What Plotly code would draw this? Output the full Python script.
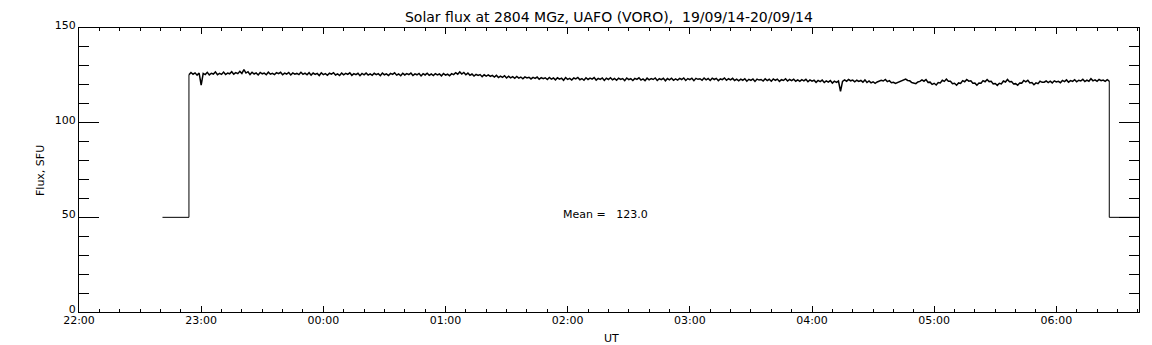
import pandas as pd
import plotly.graph_objects as go

# ---- data, one value per minute ----
data_start = "2014-09-19 22:54"   # first sample of the flux record
step_minutes = 1
flux = [
    # 22:54 - 23:23
    125.3, 126.5, 125.6, 126.3, 125.1, 126.2, 119.8, 126.0, 125.4, 126.6, 125.2, 126.1, 125.7, 126.8, 125.3,
    126.0, 125.5, 126.7, 125.4, 126.2, 125.8, 126.9, 125.6, 126.4, 125.9, 127.1, 126.0, 128.0, 126.2, 126.9,
    # 23:24 - 23:53
    125.4, 126.6, 125.7, 126.3, 125.2, 126.5, 125.8, 126.2, 125.3, 126.7, 125.6, 126.1, 125.4, 126.4, 125.9,
    126.6, 125.3, 126.2, 125.7, 126.5, 125.2, 126.3, 125.6, 126.0, 125.4, 126.6, 125.5, 126.2, 125.3, 126.4,
    # 23:54 - 00:23
    125.1, 126.2, 125.5, 126.0, 124.9, 126.3, 125.4, 125.9, 125.0, 126.1, 125.6, 126.4, 125.2, 125.8, 124.9,
    126.2, 125.3, 126.0, 125.5, 126.3, 125.0, 125.9, 125.4, 126.1, 124.8, 126.0, 125.3, 126.2, 125.1, 125.8,
    # 00:24 - 00:53
    125.0, 126.1, 125.4, 125.9, 124.8, 126.2, 125.3, 125.8, 124.9, 126.0, 125.5, 126.3, 125.1, 125.7, 124.8,
    126.1, 125.2, 125.9, 125.4, 126.2, 124.9, 125.8, 125.3, 126.0, 124.7, 125.9, 125.2, 126.1, 125.0, 125.7,
    # 00:54 - 01:23
    124.9, 125.9, 125.2, 125.7, 124.7, 126.0, 125.1, 125.6, 124.8, 125.9, 125.4, 126.4, 125.6, 126.8, 125.7,
    126.5, 125.3, 126.2, 125.0, 125.7, 124.6, 125.5, 124.9, 125.4, 124.3, 125.3, 124.6, 125.2, 124.4, 125.0,
    # 01:24 - 01:53
    124.1, 125.0, 123.8, 124.6, 123.9, 124.8, 123.6, 124.5, 123.7, 124.3, 123.4, 124.4, 123.5, 124.1, 123.2,
    124.2, 123.6, 124.0, 123.1, 123.9, 123.4, 124.1, 122.9, 123.8, 123.2, 123.7, 122.8, 123.9, 123.0, 123.6,
    # 01:54 - 02:23
    122.6, 123.7, 123.0, 123.5, 122.4, 123.8, 122.9, 123.4, 122.5, 123.6, 123.1, 123.9, 122.7, 123.3, 122.4,
    123.7, 122.8, 123.5, 123.0, 123.8, 122.5, 123.4, 122.9, 123.6, 122.3, 123.5, 122.8, 123.7, 122.6, 123.3,
    # 02:24 - 02:53
    122.4, 123.5, 122.8, 123.3, 122.2, 123.6, 122.7, 123.2, 122.3, 123.4, 122.9, 123.7, 122.5, 123.1, 122.2,
    123.5, 122.6, 123.3, 122.8, 123.6, 122.3, 123.2, 122.7, 123.4, 122.1, 123.3, 122.6, 123.5, 122.4, 123.1,
    # 02:54 - 03:23
    122.5, 123.4, 122.8, 123.6, 122.3, 123.3, 122.7, 123.5, 122.2, 123.4, 122.9, 123.2, 122.4, 123.6, 122.6,
    123.3, 122.3, 123.5, 122.8, 123.4, 122.2, 123.1, 122.7, 123.6, 122.4, 123.2, 122.6, 123.4, 122.3, 123.0,
    # 03:24 - 03:53
    122.1, 123.0, 122.4, 123.2, 121.9, 122.9, 122.3, 123.1, 121.8, 123.0, 122.5, 122.8, 122.0, 123.2, 122.2,
    122.9, 121.9, 123.1, 122.4, 123.0, 121.8, 122.7, 122.3, 123.2, 122.0, 122.8, 122.2, 123.0, 121.9, 122.6,
    # 03:54 - 04:23
    121.8, 122.7, 122.1, 122.9, 121.6, 122.6, 121.9, 122.4, 121.3, 122.3, 121.7, 122.5, 121.2, 122.1, 121.4,
    122.2, 120.9, 121.9, 121.3, 122.0, 116.5, 121.8, 122.6, 121.9, 122.8, 122.1, 122.5, 121.6, 122.4, 121.8,
    # 04:24 - 04:53
    122.3, 121.4, 122.6, 121.2, 122.0, 121.0, 121.6, 120.8, 121.5, 121.9, 122.4, 122.0, 122.8, 121.7, 122.2,
    121.1, 121.3, 120.7, 121.2, 121.4, 122.1, 122.5, 123.0, 122.3, 122.1, 121.2, 120.9, 120.6, 121.5, 121.8,
    # 04:54 - 05:23
    122.6, 121.9, 122.8, 121.3, 121.4, 120.2, 120.8, 119.9, 121.2, 121.0, 122.4, 121.8, 123.0, 121.9, 121.9,
    120.6, 120.8, 119.8, 121.0, 120.7, 122.2, 121.6, 122.8, 121.9, 122.1, 120.8, 120.9, 119.8, 120.9, 120.8,
    # 05:24 - 05:53
    122.2, 121.6, 122.8, 121.7, 121.9, 120.5, 120.7, 119.7, 120.8, 120.5, 122.0, 121.5, 122.8, 121.6, 121.7,
    120.4, 120.6, 119.8, 121.0, 120.9, 122.3, 121.6, 122.4, 121.0, 121.2, 120.0, 121.0, 120.6, 121.9, 121.3,
    # 05:54 - 06:23
    121.4, 122.0, 121.2, 121.9, 121.0, 122.1, 121.5, 121.8, 121.1, 122.3, 121.7, 122.6, 121.4, 122.2, 121.8,
    122.7, 121.6, 122.4, 122.0, 122.9, 121.7, 122.5, 121.9, 123.2, 122.1, 122.6, 121.8, 122.8, 122.2, 122.5,
    # 06:24 - 06:26
    121.8, 122.7, 122.0,
]
fill_value = 50.0
fill_before_start = "2014-09-19 22:41"
fill_after_end = "2014-09-20 06:41"
mean_label = "Mean =\u00a0\u00a0\u00a0123.0"
mean_pos_time = "2014-09-20 01:56:40"
mean_pos_value = 51.5

x_range = ["2014-09-19 22:00", "2014-09-20 06:40:36"]
y_range = [0, 150]

title_text = "Solar flux at 2804 MGz, UAFO (VORO),\u00a0\u00a019/09/14-20/09/14"
x_title = "UT"
y_title = "Flux, SFU"

# ---- build series ----
times = pd.date_range(data_start, periods=len(flux), freq=f"{step_minutes}min")
t_first, t_last = times[0], times[-1]

font_family = "DejaVu Sans"

fig = go.Figure()
# padding segments (value 50 before / after the record)
fig.add_trace(go.Scatter(
    x=[pd.Timestamp(fill_before_start), t_first, t_first, None,
       t_last, t_last, pd.Timestamp(fill_after_end)],
    y=[fill_value, fill_value, flux[0], None, flux[-1], fill_value, fill_value],
    mode="lines", line=dict(color="black", width=1), hoverinfo="skip",
    showlegend=False,
))
fig.add_trace(go.Scatter(
    x=times, y=flux, mode="lines",
    line=dict(color="black", width=1.5), showlegend=False,
))

axis_common = dict(
    showline=True, linecolor="black", linewidth=1, mirror="ticks",
    ticks="inside", tickcolor="black", tickwidth=1,
    showgrid=False, zeroline=False,
    tickfont=dict(family=font_family, size=11, color="black"),
)

fig.update_xaxes(
    type="date", range=x_range, tickformat="%H:%M",
    dtick=3600000, tick0="2014-09-19 22:00", ticklen=6,
    ticklabelstandoff=-2,
    minor=dict(ticks="inside", ticklen=3, dtick=600000,
               tick0="2014-09-19 22:00", tickcolor="black", showgrid=False),
    **axis_common,
)
fig.update_yaxes(
    range=y_range, dtick=50, ticklen=20, ticklabelshift=-3,
    minor=dict(ticks="inside", ticklen=10, dtick=10, tickcolor="black",
               showgrid=False),
    **axis_common,
)

fig.update_layout(
    width=1152, height=345,
    margin=dict(l=71, r=21, t=20, b=41),
    paper_bgcolor="white", plot_bgcolor="white",
    font=dict(family=font_family, size=11, color="black"),
    title=dict(text=title_text, x=0.5216, xanchor="center",
               y=1 - 9 / 345, yanchor="middle",
               font=dict(family=font_family, size=14, color="black")),
    annotations=[
        dict(text=x_title, xref="paper", yref="paper", x=0.502, y=-0.095,
             xanchor="center", yanchor="middle", showarrow=False,
             font=dict(family=font_family, size=11)),
        dict(text=y_title, xref="paper", yref="paper", x=-0.0368, y=0.5,
             xanchor="center", yanchor="middle", textangle=-90,
             showarrow=False, font=dict(family=font_family, size=11)),
        dict(text=mean_label, xref="x", yref="y", x=mean_pos_time,
             y=mean_pos_value, xanchor="left", yanchor="middle",
             showarrow=False, font=dict(family=font_family, size=11)),
    ],
)

fig.write_html("out.html")
